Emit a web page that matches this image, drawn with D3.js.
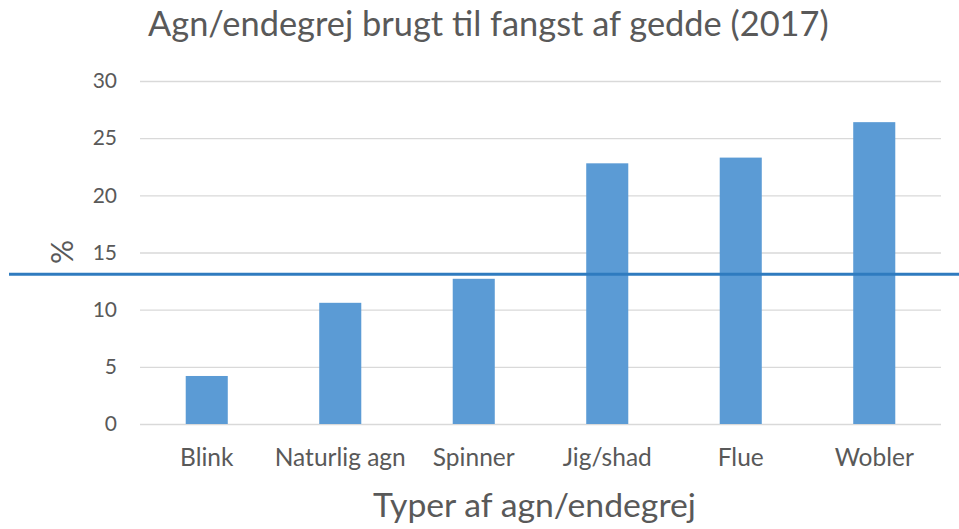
<!DOCTYPE html>
<html>
<head>
<meta charset="utf-8">
<script src="https://cdn.jsdelivr.net/npm/d3@7"></script>
<style>
  body { margin: 0; background: #fff; }
  text { font-family: Lato, "Open Sans", sans-serif; fill: #595959; }
</style>
</head>
<body>
<script>
// data
const categories = ["Blink", "Naturlig agn", "Spinner", "Jig/shad", "Flue", "Wobler"];
const values = [4.2, 10.6, 12.7, 22.8, 23.3, 26.4];
const yTicks = [0, 5, 10, 15, 20, 25, 30];
const refValue = 13.1;

const titleText = "Agn/endegrej brugt til fangst af gedde (2017)";
const xTitle = "Typer af agn/endegrej";
const yTitle = "%";

var w = 959;
var h = 529;

var svg = d3.select("body").append("svg").attr("width", w).attr("height", h);

//scales
var xScale = d3.scaleBand()
  .domain(categories)
  .range([140, 941])
  .paddingInner(0.685)
  .paddingOuter(0.3425);

var yScale = d3.scaleLinear().domain([0, 30]).range([424, 81]);

//fit font size so a text gets a given width
function fit(sel, width) {
  var len = sel.node().getComputedTextLength();
  var fs = parseFloat(sel.attr("font-size"));
  sel.attr("font-size", fs * width / len);
  return fs * width / len;
}

//grid + y labels
var yAxis = d3.axisLeft(yScale)
  .tickValues(yTicks)
  .tickSize(-801)
  .tickPadding(23);

var gy = svg.append("g")
  .attr("class", "y-axis")
  .attr("transform", "translate(140,0)")
  .call(yAxis);

gy.select(".domain").remove();
gy.selectAll(".tick line").attr("stroke", "#d9d9d9").attr("stroke-width", 1.3);
gy.selectAll(".tick text")
  .attr("font-size", 21)
  .attr("fill", "#595959")
  .style("font-family", "Lato, 'Open Sans', sans-serif");

//bars
svg.selectAll("rect.bar")
  .data(values)
  .enter()
  .append("rect")
  .attr("class", "bar")
  .attr("x", function (d, i) { return xScale(categories[i]); })
  .attr("y", function (d) { return yScale(d); })
  .attr("width", xScale.bandwidth())
  .attr("height", function (d) { return yScale(0) - yScale(d); })
  .attr("fill", "#5b9bd5");

//category labels
var cats = svg.append("g").selectAll("text")
  .data(categories)
  .enter()
  .append("text")
  .attr("x", function (d) { return xScale(d) + xScale.bandwidth() / 2; })
  .attr("y", 466)
  .attr("text-anchor", "middle")
  .attr("font-size", 22)
  .text(function (d) { return d; });

// size from the widest label
var nat = cats.filter(function (d) { return d === "Naturlig agn"; });
var catSize = fit(nat, 131);
cats.attr("font-size", catSize);

//reference line
svg.append("line")
  .attr("x1", 9)
  .attr("x2", w)
  .attr("y1", yScale(refValue))
  .attr("y2", yScale(refValue))
  .attr("stroke", "#2f7bbf")
  .attr("stroke-width", 3);

//title
var t = svg.append("text")
  .attr("x", 148)
  .attr("y", 36)
  .attr("font-size", 34)
  .text(titleText);
fit(t, 681);

//x title
var xt = svg.append("text")
  .attr("x", 373)
  .attr("y", 517)
  .attr("font-size", 31)
  .text(xTitle);
fit(xt, 323);

//y title
svg.append("text")
  .attr("transform", "translate(73,252) rotate(-90)")
  .attr("text-anchor", "middle")
  .attr("font-size", 30)
  .text(yTitle);
</script>
</body>
</html>
